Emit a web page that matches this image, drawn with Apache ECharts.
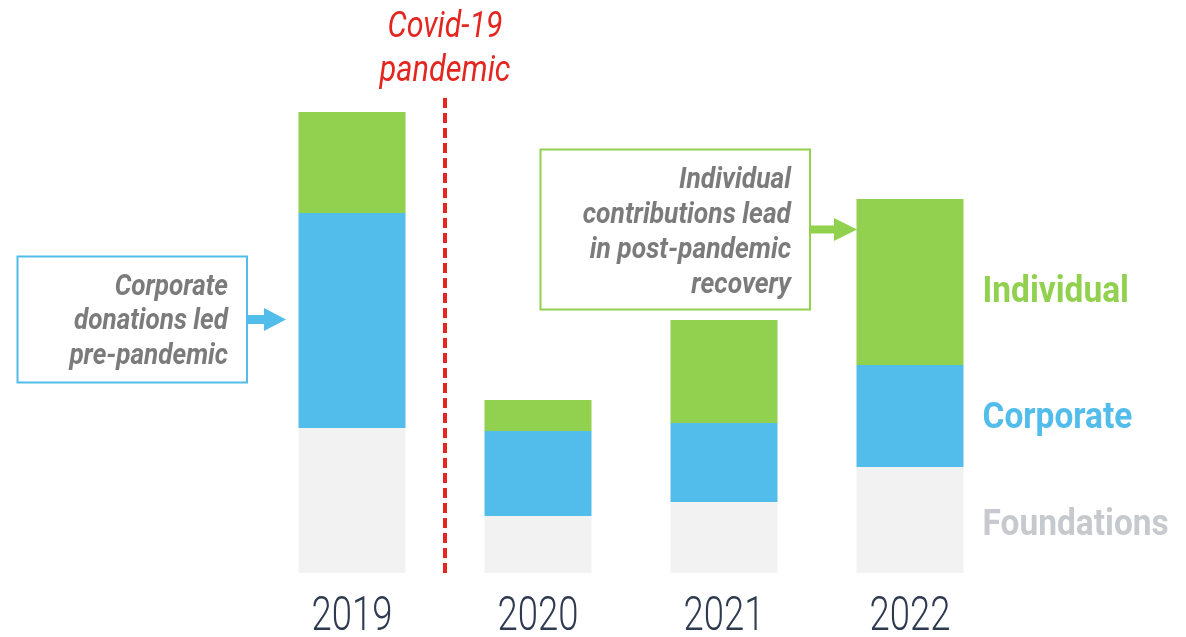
<!DOCTYPE html>
<html>
<head>
<meta charset="utf-8">
<script src="https://cdn.jsdelivr.net/npm/echarts@6/dist/echarts.min.js"></script>
<style>
  html, body { margin: 0; padding: 0; background: #fff; }
  #chart { width: 1186px; height: 637px; }
</style>
</head>
<body>
<div id="chart"></div>
<script>
// relative amounts (no axis shown in the original)
const years = ['2019', '2020', '2021', '2022'];
const foundations = [145, 57, 71, 106];
const corporate = [215, 85, 79, 102];
const individual = [101, 31, 103, 166];

const FONT = 'Roboto, "DejaVu Sans", sans-serif';
const GREEN = '#92d050';
const BLUE = '#52bdea';
const LIGHT = '#f2f2f2';
const RED = '#e3261f';
const NOTE = '#7b7b7b';

const chart = echarts.init(document.getElementById('chart'));

function barSeries(name, data, color) {
  return {
    name: name,
    type: 'bar',
    stack: 'total',
    data: data,
    barWidth: 107,
    itemStyle: { color: color },
    emphasis: { disabled: true },
    silent: true
  };
}

chart.setOption({
  animation: false,
  grid: { left: 259, width: 744, top: 73, bottom: 64 },
  xAxis: {
    type: 'category',
    data: years,
    axisLine: { show: false },
    axisTick: { show: false },
    axisLabel: { show: false }
  },
  yAxis: { type: 'value', min: 0, max: 500, show: false },
  series: [
    barSeries('Foundations', foundations, LIGHT),
    barSeries('Corporate', corporate, BLUE),
    barSeries('Individual', individual, GREEN)
  ]
});

// the original font is a condensed grotesk, so texts get squeezed horizontally
function squeezed(x, y, sx, style) {
  return { type: 'text', x: x, y: y, scaleX: sx, style: Object.assign({ fontFamily: FONT }, style), silent: true };
}

const xAt = (cat) => chart.convertToPixel({ xAxisIndex: 0 }, cat);
const divX = (xAt(years[0]) + xAt(years[1])) / 2;
const baseY = chart.convertToPixel({ yAxisIndex: 0 }, 0);
const lastX = xAt(years[years.length - 1]) + 107 / 2 + 19;

const graphics = [];

// year labels under each bar
years.forEach((y) => {
  graphics.push(squeezed(xAt(y), 618, 0.76, {
    text: y, fontSize: 48, fontWeight: 300, fill: '#2e3a4f', align: 'center', verticalAlign: 'middle'
  }));
});

// direct legend next to the 2022 bar
[['Individual', GREEN, 293], ['Corporate', BLUE, 419], ['Foundations', '#c6c9ce', 526]].forEach(([t, c, y]) => {
  graphics.push(squeezed(lastX, y, 0.93, {
    text: t, fontSize: 36, fontWeight: 'bold', fill: c, align: 'left', verticalAlign: 'middle'
  }));
});

const noteStyle = {
  fontStyle: 'italic',
  fontWeight: 'bold',
  fontSize: 29,
  fill: NOTE,
  align: 'right',
  verticalAlign: 'middle'
};

graphics.push(
  {
    type: 'line',
    shape: { x1: divX, y1: 98, x2: divX, y2: baseY },
    style: { stroke: RED, lineWidth: 4, lineDash: [10, 5] },
    silent: true
  },
  squeezed(divX, 28, 0.82, { text: 'Covid-19', fontStyle: 'italic', fontSize: 37, fill: RED, align: 'center', verticalAlign: 'middle' }),
  squeezed(divX, 72, 0.83, { text: 'pandemic', fontStyle: 'italic', fontSize: 37, fill: RED, align: 'center', verticalAlign: 'middle' }),
  // corporate note
  {
    type: 'rect',
    shape: { x: 17.5, y: 256.5, width: 229.5, height: 126 },
    style: { fill: '#fff', stroke: BLUE, lineWidth: 2 }
  },
  squeezed(228, 322, 0.9, Object.assign({ text: 'Corporate\ndonations led\npre-pandemic', lineHeight: 34.5 }, noteStyle)),
  {
    type: 'polygon',
    shape: { points: [[247, 315], [264, 315], [264, 308], [286, 319.5], [264, 331], [264, 324], [247, 324]] },
    style: { fill: BLUE }
  },
  // individual note
  {
    type: 'rect',
    shape: { x: 540.5, y: 149.5, width: 269.5, height: 160 },
    style: { fill: '#fff', stroke: GREEN, lineWidth: 2 }
  },
  squeezed(791, 233, 0.91, Object.assign({ text: 'Individual\ncontributions lead\nin post-pandemic\nrecovery', lineHeight: 35 }, noteStyle)),
  {
    type: 'polygon',
    shape: { points: [[810, 225.5], [834, 225.5], [834, 218], [857, 229.5], [834, 241], [834, 233.5], [810, 233.5]] },
    style: { fill: GREEN }
  }
);

chart.setOption({ graphic: graphics });
</script>
</body>
</html>
